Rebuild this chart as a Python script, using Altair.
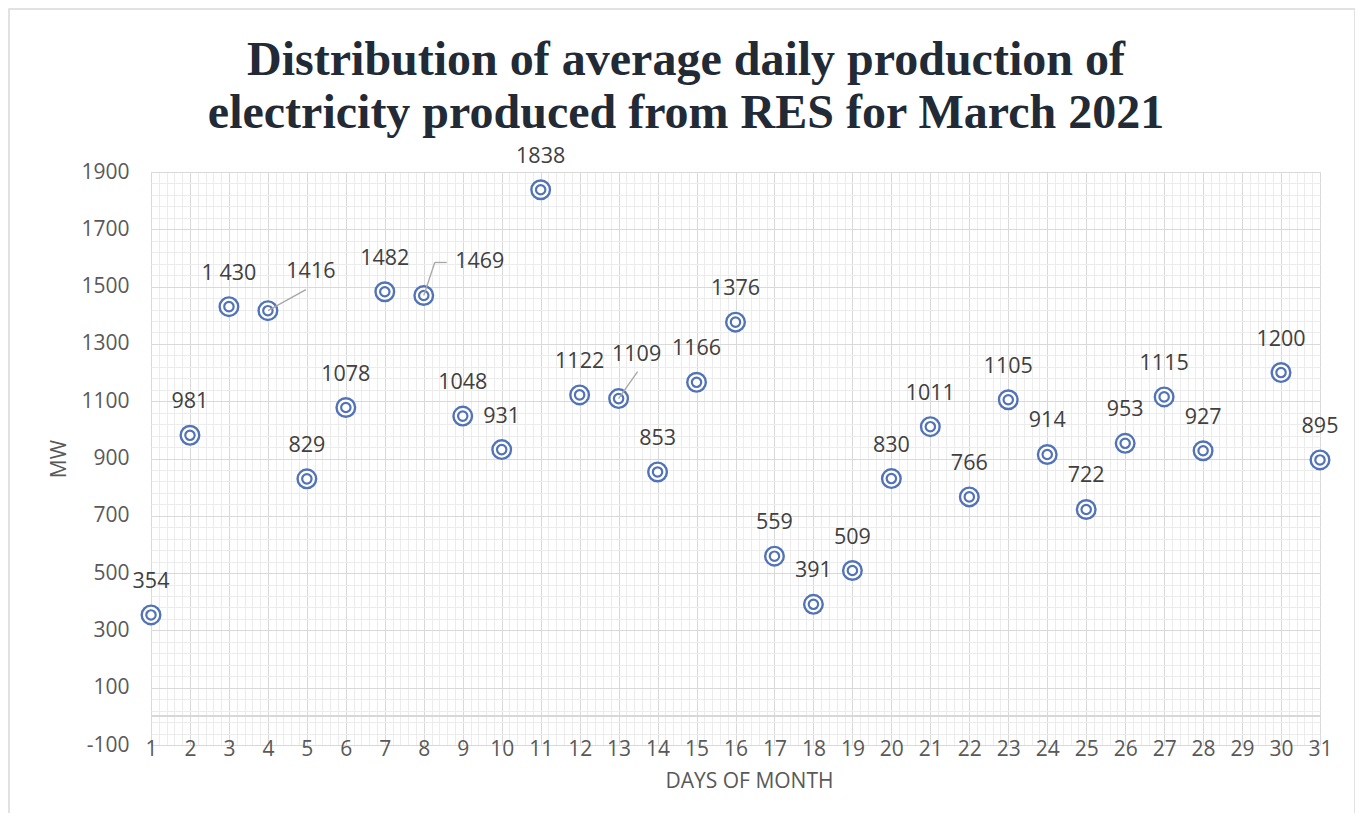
import altair as alt
import pandas as pd

# ---- data ----
days = list(range(1, 29)) + [30, 31]
values = [354, 981, 1430, 1416, 829, 1078, 1482, 1469, 1048, 931,
          1838, 1122, 1109, 853, 1166, 1376, 559, 391, 509, 830,
          1011, 766, 1105, 914, 722, 953, 1115, 927, 1200, 895]
labels = ["354", "981", "1 430", "1416", "829", "1078", "1482", "1469", "1048", "931",
          "1838", "1122", "1109", "853", "1166", "1376", "559", "391", "509", "830",
          "1011", "766", "1105", "914", "722", "953", "1115", "927", "1200", "895"]
title_lines = ["Distribution of average daily production of",
               "electricity produced from RES for March 2021"]
x_major = list(range(1, 32))
y_major = list(range(-100, 1901, 200))
x_minor = [round(1 + 0.2 * i, 1) for i in range(151)]
y_minor = list(range(-100, 1901, 40))

df = pd.DataFrame({"day": days, "mw": values, "label": labels})

W, H = 1169, 573
BLUE = "#5273B8"
FONT = "Open Sans"
GRAY = "#595959"
FS_TICK = 21
FS_LAB = 21.5

xs = alt.Scale(domain=[1, 31], nice=False, zero=False)
ys = alt.Scale(domain=[-100, 1900], nice=False, zero=False)
X = alt.X("day:Q", scale=xs, axis=None)
Y = alt.Y("mw:Q", scale=ys, axis=None)

minor = alt.Chart(df).mark_point(opacity=0).encode(
    x=alt.X("day:Q", scale=xs, axis=alt.Axis(values=x_minor, grid=True, gridColor="#ececec",
                                             gridWidth=1, labels=False, ticks=False, domain=False,
                                             title=None, orient="top")),
    y=alt.Y("mw:Q", scale=ys, axis=alt.Axis(values=y_minor, grid=True, gridColor="#ececec",
                                            gridWidth=1, labels=False, ticks=False, domain=False,
                                            title=None, orient="right")),
)

major = alt.Chart(df).mark_point(opacity=0).encode(
    x=alt.X("day:Q", scale=xs, axis=alt.Axis(values=x_major, grid=True, gridColor="#d9d9d9",
                                             gridWidth=1, ticks=False, domain=False, orient="bottom",
                                             labelFont=FONT, labelFontSize=FS_TICK, labelColor=GRAY,
                                             labelPadding=4, labelBaseline="middle", labelFlush=False,
                                             title="DAYS OF MONTH", titleFont=FONT, titleFontSize=21,
                                             titleFontWeight="normal", titleColor=GRAY, titlePadding=11,
                                             titleX=598)),
    y=alt.Y("mw:Q", scale=ys, axis=alt.Axis(values=y_major, grid=True, gridColor="#d9d9d9",
                                            gridWidth=1, ticks=False, domain=False, orient="left",
                                            labelFont=FONT, labelFontSize=FS_TICK, labelColor=GRAY,
                                            labelPadding=22, labelFlush=False,
                                            labelExpr="'' + datum.value",
                                            title="MW", titleFont=FONT, titleFontSize=21,
                                            titleFontWeight="normal", titleColor=GRAY, titlePadding=11)),
)

zero_line = alt.Chart(df).transform_calculate(z="0").mark_rule(
    color="#d9d9d9", strokeWidth=1).encode(y=alt.Y("z:Q", scale=ys, axis=None))

outer = alt.Chart(df).mark_point(shape="circle", filled=True, fill="white", stroke=BLUE,
                                 strokeWidth=2.4, size=346, opacity=1).encode(x=X, y=Y)
inner = alt.Chart(df).mark_point(shape="circle", filled=False, stroke=BLUE,
                                 strokeWidth=2.2, size=88, opacity=1).encode(x=X, y=Y)

txt_kw = dict(font=FONT, fontSize=FS_LAB, color="#404040", baseline="middle", align="center")
enc = dict(x=X, y=Y, text="label:N")

main_txt = alt.Chart(df).transform_filter(
    "datum.day != 4 && datum.day != 8 && datum.day != 13").mark_text(dy=-33, **txt_kw).encode(**enc)
t4 = alt.Chart(df).transform_filter("datum.day == 4").mark_text(dx=43, dy=-39, **txt_kw).encode(**enc)
t8 = alt.Chart(df).transform_filter("datum.day == 8").mark_text(dx=56, dy=-33, **txt_kw).encode(**enc)
t13 = alt.Chart(df).transform_filter("datum.day == 13").mark_text(dx=18, dy=-44, **txt_kw).encode(**enc)

lead_kw = dict(color="#a6a6a6", strokeWidth=1.3)
renc = dict(x=X, y=Y, x2="day:Q", y2="mw:Q")
l4 = alt.Chart(df).transform_filter("datum.day == 4").mark_rule(
    x2Offset=38, y2Offset=-21, **lead_kw).encode(**renc)
l8a = alt.Chart(df).transform_filter("datum.day == 8").mark_rule(
    x2Offset=11, y2Offset=-33, **lead_kw).encode(**renc)
l8b = alt.Chart(df).transform_filter("datum.day == 8").mark_rule(
    xOffset=11, yOffset=-33, x2Offset=23, y2Offset=-33, **lead_kw).encode(**renc)
l13 = alt.Chart(df).transform_filter("datum.day == 13").mark_rule(
    x2Offset=19, y2Offset=-27, **lead_kw).encode(**renc)

one = pd.DataFrame({"b": [0]})
border = alt.Chart(one).mark_rect(
    fillOpacity=0, stroke="#d9d9d9", strokeWidth=1.5).encode(
    x=alt.value(-142), x2=alt.value(W + 35), y=alt.value(-163), y2=alt.value(H + 90))

ttl_kw = dict(font="Liberation Serif", fontSize=48, fontWeight="bold", color="#222a35",
              align="center", baseline="alphabetic")
title1 = alt.Chart(one).mark_text(**ttl_kw).encode(
    x=alt.value(535), y=alt.value(-97), text=alt.value(title_lines[0]))
title2 = alt.Chart(one).mark_text(**ttl_kw).encode(
    x=alt.value(535), y=alt.value(-44), text=alt.value(title_lines[1]))

chart = alt.layer(
    border, minor, major, zero_line, outer, inner, l4, l8a, l8b, l13,
    main_txt, t4, t8, t13, title1, title2
).resolve_axis(x="independent", y="independent").properties(
    width=W, height=H,
    autosize=alt.AutoSizeParams(type="none"),
    padding={"left": 143, "top": 164, "right": 35, "bottom": 68},
).configure_view(stroke="transparent")

chart.save("out.html", embed_options={"renderer": "svg", "actions": False})
